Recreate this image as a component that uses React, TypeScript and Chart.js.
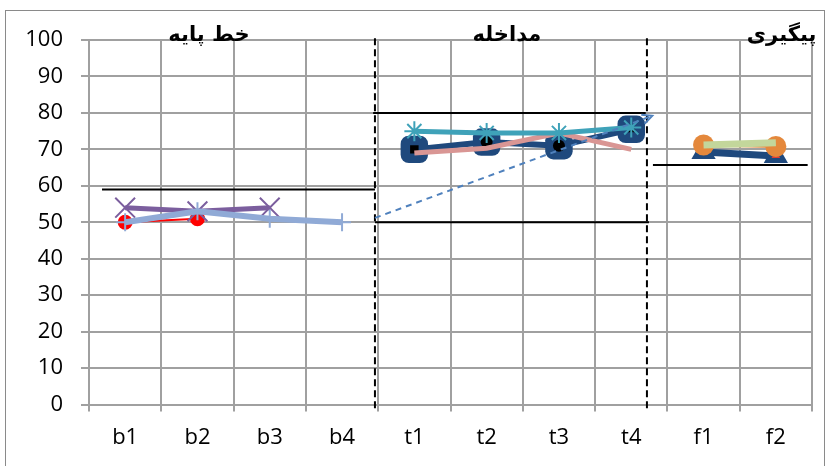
import React, { useEffect, useRef } from 'react';
import { Chart, registerables } from 'chart.js';

Chart.register(...registerables);

const categories = ['b1', 'b2', 'b3', 'b4', 't1', 't2', 't3', 't4', 'f1', 'f2'];

// baseline phase
const redSeries = [50, 51, null, null, null, null, null, null, null, null];
const purpleSeries = [54, 53, 54, null, null, null, null, null, null, null];
const lightBlueSeries = [50, 53, 51, 50, null, null, null, null, null, null];
// intervention phase
const navySeries = [null, null, null, null, 70, 72, 71, 75.5, null, null];
const blackSeries = [null, null, null, null, 70, 72, 71, 75.5, null, null];
const blackStyles = ['rect', 'rect', 'rect', 'rect', 'rect', 'circle', 'circle', 'triangle', 'rect', 'rect'];
const tealSeries = [null, null, null, null, 75, 74.5, 74.5, 76, null, null];
const pinkSeries = [null, null, null, null, 69, 70.3, 74.5, 70, null, null];
// follow-up phase
const navyFollowSeries = [null, null, null, null, null, null, null, null, 69.3, 68.2];
const orangeSeries = [null, null, null, null, null, null, null, null, 71.2, 70.8];
const greenSeries = [null, null, null, null, null, null, null, null, 71.2, 71.8];
const redFollowSeries = [null, null, null, null, null, null, null, null, null, 68.3];

// phase separators, level lines, trend (x in category-index units)
const phaseBreakX = [3.455, 7.217];
const phaseBreakY = [-1, 101.5];
const baselineLevelX = [-0.32, 3.455];
const baselineLevelY = [59, 59];
const interventionUpperX = [3.43, 7.2];
const interventionUpperY = [80, 80];
const interventionLowerX = [3.455, 7.245];
const interventionLowerY = [50, 50];
const followLevelX = [7.3, 9.44];
const followLevelY = [65.7, 65.7];
const trendX = [3.455, 7.29];
const trendY = [51.2, 79.2];

const phaseTitles = ['خط پایه', 'مداخله', 'پیگیری'];
const phaseTitleX = [1.16, 5.28, 9.08];
const phaseTitleY = 99.8;

const yMin = 0;
const yMax = 100;
const yStep = 10;

const pts = (xs: number[], ys: number[]) => xs.map((x, i) => ({ x, y: ys[i] }));

const FONT = '"Open Sans", "Liberation Sans", sans-serif';

const titlePlugin = {
  id: 'phaseTitles',
  afterDatasetsDraw(chart: any) {
    const ctx = chart.ctx;
    const xs = chart.scales.x2;
    const ys = chart.scales.y;
    ctx.save();
    ctx.fillStyle = '#000';
    ctx.font = 'bold 21px "DejaVu Sans", sans-serif';
    ctx.textAlign = 'center';
    ctx.textBaseline = 'alphabetic';
    ctx.direction = 'rtl';
    phaseTitles.forEach((t, i) => {
      ctx.fillText(t, xs.getPixelForValue(phaseTitleX[i]), ys.getPixelForValue(phaseTitleY));
    });
    ctx.restore();
  },
};

const arrowPlugin = {
  id: 'trendArrow',
  afterDatasetsDraw(chart: any) {
    const idx = chart.data.datasets.findIndex((d: any) => d.label === 'trend');
    if (idx < 0) return;
    const meta = chart.getDatasetMeta(idx);
    const p = meta.data;
    if (p.length < 2) return;
    const a = p[p.length - 2];
    const b = p[p.length - 1];
    const ang = Math.atan2(b.y - a.y, b.x - a.x);
    const ctx = chart.ctx;
    const len = 11;
    ctx.save();
    ctx.strokeStyle = '#4F81BD';
    ctx.lineWidth = 2;
    ctx.setLineDash([]);
    ctx.beginPath();
    ctx.moveTo(b.x - len * Math.cos(ang - 0.45), b.y - len * Math.sin(ang - 0.45));
    ctx.lineTo(b.x, b.y);
    ctx.lineTo(b.x - len * Math.cos(ang + 0.45), b.y - len * Math.sin(ang + 0.45));
    ctx.stroke();
    ctx.restore();
  },
};

export default function App() {
  const ref = useRef<HTMLCanvasElement>(null);

  useEffect(() => {
    if (!ref.current) return;
    const blackLine = (label: string, xs: number[], ys: number[], dashed = false) => ({
      label,
      type: 'line' as const,
      xAxisID: 'x2',
      data: pts(xs, ys),
      borderColor: '#000000',
      borderWidth: 2,
      borderDash: dashed ? [7, 4] : [],
      pointRadius: 0,
      tension: 0,
      clip: false as any,
      order: 20,
    });
    const chart = new Chart(ref.current, {
      type: 'line',
      data: {
        labels: categories,
        datasets: [
          {
            label: 'red',
            data: redSeries,
            borderColor: '#FF0000',
            backgroundColor: '#FF0000',
            borderWidth: 2,
            pointStyle: 'circle',
            pointRadius: 7.5,
            pointBorderWidth: 0,
            order: 6,
          },
          {
            label: 'purple',
            data: purpleSeries,
            borderColor: '#7B5E9E',
            backgroundColor: '#7B5E9E',
            borderWidth: 5,
            pointStyle: 'crossRot',
            pointRadius: 14,
            pointBorderWidth: 2,
            order: 5,
          },
          {
            label: 'lightblue',
            data: lightBlueSeries,
            borderColor: '#90AAD6',
            backgroundColor: '#90AAD6',
            borderWidth: 6,
            pointStyle: 'cross',
            pointRadius: 9,
            pointBorderWidth: 2,
            order: 1,
          },
          {
            label: 'navy',
            data: navySeries,
            borderColor: '#1F497D',
            backgroundColor: '#1F497D',
            borderWidth: 6,
            pointStyle: 'rectRounded',
            pointRadius: 16,
            pointBorderWidth: 0,
            order: 4,
          },
          {
            label: 'black',
            data: blackSeries,
            showLine: false,
            borderColor: '#000000',
            backgroundColor: '#000000',
            pointStyle: blackStyles as any,
            pointRadius: 6,
            pointBorderWidth: 0,
            order: 3,
          },
          {
            label: 'pink',
            data: pinkSeries,
            borderColor: '#D99694',
            backgroundColor: '#D99694',
            borderWidth: 5,
            pointRadius: 0,
            order: 2,
          },
          {
            label: 'teal',
            data: tealSeries,
            borderColor: '#3FA2B9',
            backgroundColor: '#3FA2B9',
            borderWidth: 5,
            pointStyle: 'star',
            pointRadius: 10,
            pointBorderWidth: 2,
            order: 1,
          },
          {
            label: 'navyFollow',
            data: navyFollowSeries,
            borderColor: '#1F497D',
            backgroundColor: '#1F497D',
            borderWidth: 7,
            pointStyle: 'triangle',
            pointRadius: 14,
            pointBorderWidth: 0,
            order: 4,
          },
          {
            label: 'redFollow',
            data: redFollowSeries,
            showLine: false,
            borderColor: '#E03C31',
            backgroundColor: '#E03C31',
            pointStyle: 'triangle',
            pointRadius: 5,
            pointBorderWidth: 0,
            order: 3,
          },
          {
            label: 'orange',
            data: orangeSeries,
            borderColor: '#E4883C',
            backgroundColor: '#E4883C',
            borderWidth: 3,
            pointStyle: 'circle',
            pointRadius: 10.5,
            pointBorderWidth: 0,
            order: 2,
          },
          {
            label: 'green',
            data: greenSeries,
            borderColor: '#C3D69B',
            backgroundColor: '#C3D69B',
            borderWidth: 7,
            pointRadius: 0,
            order: 1,
          },
          blackLine('break1', [phaseBreakX[0], phaseBreakX[0]], phaseBreakY, true),
          blackLine('break2', [phaseBreakX[1], phaseBreakX[1]], phaseBreakY, true),
          blackLine('baseLevel', baselineLevelX, baselineLevelY),
          blackLine('intUpper', interventionUpperX, interventionUpperY),
          blackLine('intLower', interventionLowerX, interventionLowerY),
          blackLine('followLevel', followLevelX, followLevelY),
          {
            label: 'trend',
            type: 'line',
            xAxisID: 'x2',
            data: pts(trendX, trendY),
            borderColor: '#4F81BD',
            borderWidth: 2,
            borderDash: [6, 5],
            pointRadius: 0,
            tension: 0,
            clip: false as any,
            order: 0,
          } as any,
        ] as any,
      },
      options: {
        animation: false,
        responsive: false,
        devicePixelRatio: 1,
        events: [],
        layout: { padding: { top: 40, right: 16, left: 0, bottom: 0 } },
        elements: { line: { tension: 0 } },
        plugins: { legend: { display: false }, tooltip: { enabled: false } },
        scales: {
          x: {
            type: 'category',
            offset: true,
            grid: { offset: true, color: '#A0A0A0', lineWidth: 2, tickLength: 7, drawTicks: true },
            border: { color: '#A0A0A0', width: 2 },
            ticks: { color: '#000', font: { family: FONT, size: 22 }, padding: 13, maxRotation: 0, autoSkip: false },
            afterFit: (s: any) => {
              s.height = 61.4;
            },
          },
          x2: {
            type: 'linear',
            display: false,
            min: -0.5,
            max: 9.5,
          },
          y: {
            min: yMin,
            max: yMax,
            grid: { color: '#A0A0A0', lineWidth: 2, tickLength: 8 },
            border: { color: '#A0A0A0', width: 2 },
            ticks: { stepSize: yStep, color: '#000', font: { family: FONT, size: 22 }, padding: 18 },
            afterFit: (s: any) => {
              s.width = 89;
            },
          },
        },
      } as any,
      plugins: [titlePlugin, arrowPlugin],
    });
    return () => chart.destroy();
  }, []);

  return (
    <div style={{ position: 'absolute', left: 0, top: 0, width: 828, height: 466, overflow: 'hidden', background: '#fff' }}>
      <div
        style={{
          position: 'absolute',
          left: 5,
          top: 10,
          width: 820,
          height: 470,
          border: '1px solid #8a8a8a',
          boxSizing: 'border-box',
        }}
      />
      <canvas ref={ref} width={828} height={466} style={{ position: 'absolute', left: 0, top: 0, width: 828, height: 466 }} />
    </div>
  );
}
